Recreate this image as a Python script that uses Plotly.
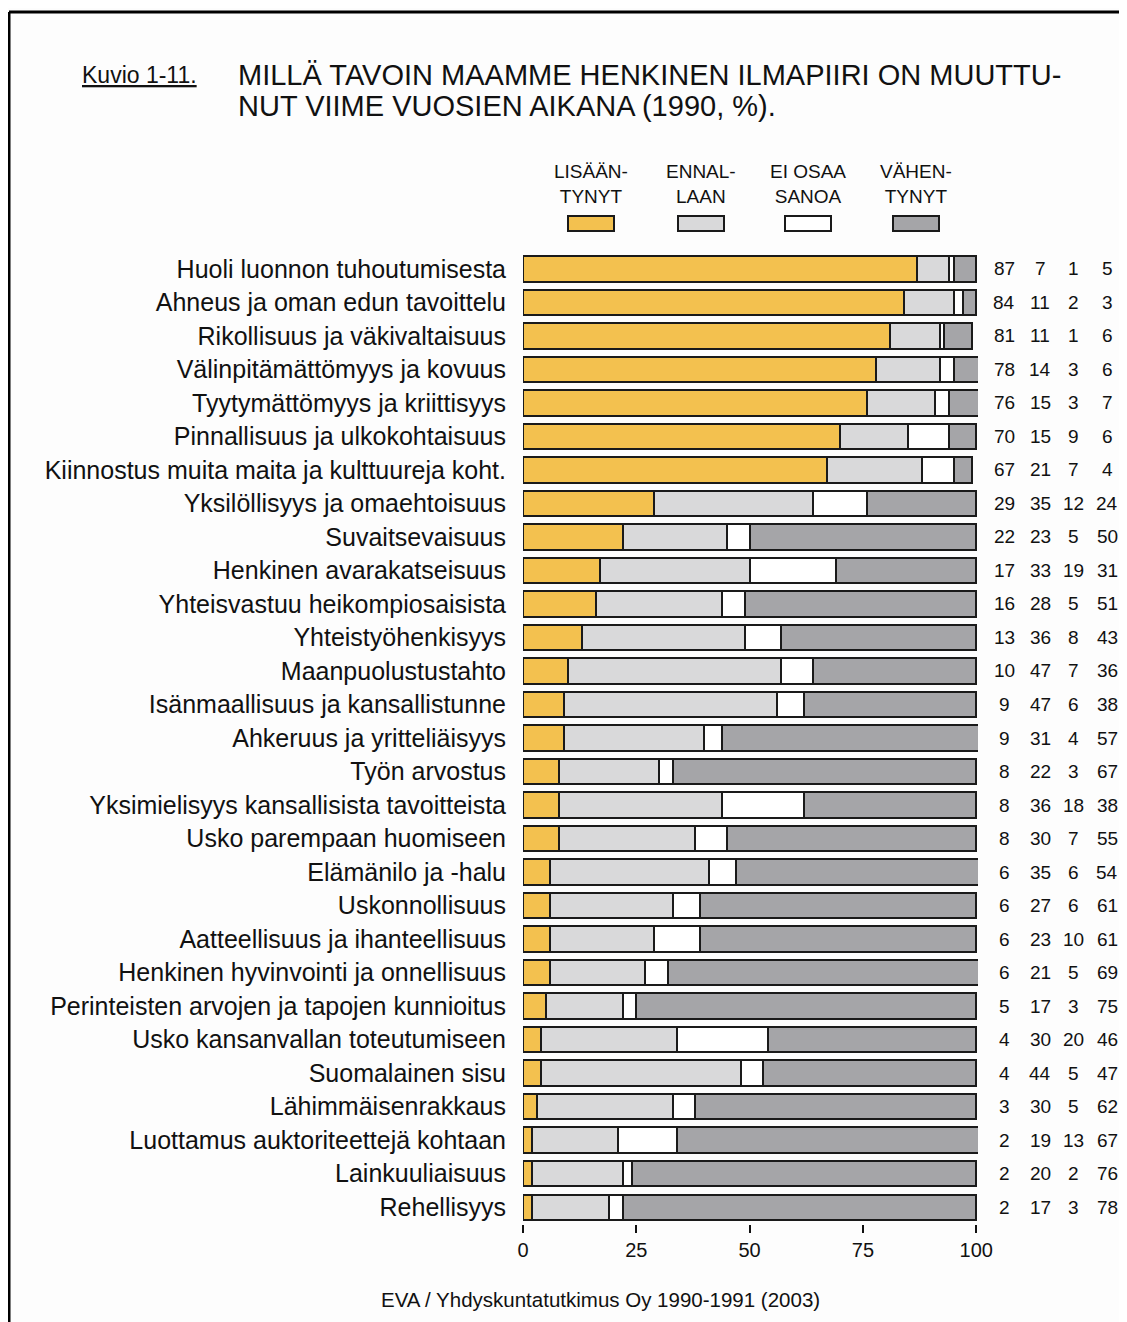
import plotly.graph_objects as go

# Kuvio 1-11 data (1990, %)
categories = [
    'Huoli luonnon tuhoutumisesta',
    'Ahneus ja oman edun tavoittelu',
    'Rikollisuus ja väkivaltaisuus',
    'Välinpitämättömyys ja kovuus',
    'Tyytymättömyys ja kriittisyys',
    'Pinnallisuus ja ulkokohtaisuus',
    'Kiinnostus muita maita ja kulttuureja koht.',
    'Yksilöllisyys ja omaehtoisuus',
    'Suvaitsevaisuus',
    'Henkinen avarakatseisuus',
    'Yhteisvastuu heikompiosaisista',
    'Yhteistyöhenkisyys',
    'Maanpuolustustahto',
    'Isänmaallisuus ja kansallistunne',
    'Ahkeruus ja yritteliäisyys',
    'Työn arvostus',
    'Yksimielisyys kansallisista tavoitteista',
    'Usko parempaan huomiseen',
    'Elämänilo ja -halu',
    'Uskonnollisuus',
    'Aatteellisuus ja ihanteellisuus',
    'Henkinen hyvinvointi ja onnellisuus',
    'Perinteisten arvojen ja tapojen kunnioitus',
    'Usko kansanvallan toteutumiseen',
    'Suomalainen sisu',
    'Lähimmäisenrakkaus',
    'Luottamus auktoriteettejä kohtaan',
    'Lainkuuliaisuus',
    'Rehellisyys',
]
lisaantynyt = [87, 84, 81, 78, 76, 70, 67, 29, 22, 17, 16, 13, 10, 9, 9, 8, 8, 8, 6, 6, 6, 6, 5, 4, 4, 3, 2, 2, 2]
ennallaan = [7, 11, 11, 14, 15, 15, 21, 35, 23, 33, 28, 36, 47, 47, 31, 22, 36, 30, 35, 27, 23, 21, 17, 30, 44, 30, 19, 20, 17]
ei_osaa = [1, 2, 1, 3, 3, 9, 7, 12, 5, 19, 5, 8, 7, 6, 4, 3, 18, 7, 6, 6, 10, 5, 3, 20, 5, 5, 13, 2, 3]
vahentynyt = [5, 3, 6, 6, 7, 6, 4, 24, 50, 31, 51, 43, 36, 38, 57, 67, 38, 55, 54, 61, 61, 69, 75, 46, 47, 62, 67, 76, 78]

series_names = ['LISÄÄN-<br>TYNYT', 'ENNAL-<br>LAAN', 'EI OSAA<br>SANOA', 'VÄHEN-<br>TYNYT']
series_values = [lisaantynyt, ennallaan, ei_osaa, vahentynyt]
colors = ['#F3C14F', '#D9D9DA', '#FFFFFF', '#A5A5A8']

x_ticks = [0, 25, 50, 75, 100]

title_lines = ['MILLÄ TAVOIN MAAMME HENKINEN ILMAPIIRI ON MUUTTU-',
               'NUT VIIME VUOSIEN AIKANA (1990, %).']

FONT = 'Liberation Sans, Arial, Helvetica, sans-serif'

# page is drawn 8px in from the window corner
OFF = 8
W, H = 1127 - OFF, 1322 - OFF
L, R, T, B = 523 - OFF, 149, 252 - OFF, 98
PW, PH = W - L - R, H - T - B


def px_x(px):
    return (px - OFF - L) / PW


def px_y(py):
    return 1 - (py - OFF - T) / PH


fig = go.Figure()
for name, vals, col in zip(series_names, series_values, colors):
    fig.add_trace(go.Bar(
        y=categories, x=vals, name=name, orientation='h',
        marker=dict(color=col, line=dict(color='#1a1a1a', width=2)),
        showlegend=False))

annotations = []
# value columns at right
col_px = [1004, 1040, 1073, 1107]
for vals, cx in zip(series_values, col_px):
    for cat, v in zip(categories, vals):
        annotations.append(dict(
            x=px_x(cx), xref='paper', y=cat, yref='y', text=str(v),
            showarrow=False, xanchor='center',
            font=dict(family=FONT, size=19, color='#111')))

# legend drawn by hand
shapes = []
leg_px = [591, 701, 808, 916]
for name, col, cx in zip(series_names, colors, leg_px):
    annotations.append(dict(
        x=px_x(cx), xref='paper', y=px_y(184), yref='paper', text=name,
        showarrow=False, xanchor='center', yanchor='middle',
        font=dict(family=FONT, size=19, color='#111')))
    shapes.append(dict(
        type='rect', xref='paper', yref='paper',
        x0=px_x(cx - 23), x1=px_x(cx + 23), y0=px_y(231), y1=px_y(216),
        fillcolor=col, line=dict(color='#1a1a1a', width=2)))

# title
annotations.append(dict(
    x=px_x(80), xref='paper', y=px_y(75), yref='paper',
    text='<u>Kuvio 1-11.</u>', showarrow=False, xanchor='left', yanchor='middle',
    font=dict(family=FONT, size=23, color='#111')))
for line, ly in zip(title_lines, [75, 106]):
    annotations.append(dict(
        x=px_x(236), xref='paper', y=px_y(ly), yref='paper', text=line,
        showarrow=False, xanchor='left', yanchor='middle', align='left',
        font=dict(family=FONT, size=29, color='#111')))
# source
annotations.append(dict(
    x=px_x(600), xref='paper', y=px_y(1299), yref='paper',
    text='EVA / Yhdyskuntatutkimus Oy 1990-1991 (2003)',
    showarrow=False, xanchor='center', yanchor='middle',
    font=dict(family=FONT, size=20.5, color='#111')))

# frame
shapes.append(dict(type='line', xref='paper', yref='paper',
                   x0=px_x(9), x1=px_x(1140), y0=px_y(12), y1=px_y(12),
                   line=dict(color='black', width=3)))
shapes.append(dict(type='line', xref='paper', yref='paper',
                   x0=px_x(9), x1=px_x(9), y0=px_y(12), y1=px_y(1340),
                   line=dict(color='black', width=3)))

fig.update_layout(
    barmode='stack', bargap=0.24,
    width=W, height=H,
    margin=dict(l=L, r=R, t=T, b=B, autoexpand=False),
    paper_bgcolor='#FDFDFD', plot_bgcolor='#FDFDFD',
    font=dict(family=FONT, color='#111'),
    annotations=annotations, shapes=shapes,
    xaxis=dict(range=[0, 100.4], tickvals=x_ticks, ticks='outside', ticklen=8,
               tickwidth=2, tickcolor='#111', showgrid=False, zeroline=False,
               showline=False, tickfont=dict(size=20, family=FONT)),
    yaxis=dict(autorange='reversed', showgrid=False, ticks='', showline=False,
               ticklabelstandoff=16, tickfont=dict(size=25, family=FONT)),
)

fig.write_html('out.html')
